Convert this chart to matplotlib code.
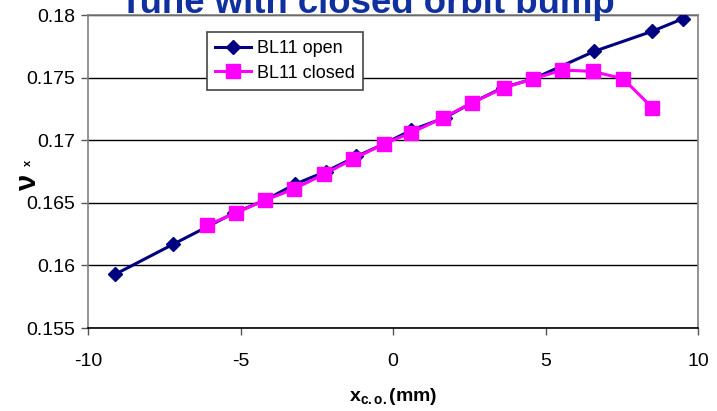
import matplotlib
matplotlib.use("Agg")
import matplotlib.pyplot as plt

plt.rcParams['font.family'] = ['Liberation Sans', 'DejaVu Sans']
plt.rcParams['axes.unicode_minus'] = False
plt.rcParams['mathtext.fontset'] = 'custom'
plt.rcParams['mathtext.rm'] = 'Liberation Sans'
plt.rcParams['mathtext.bf'] = 'Liberation Sans:bold'
plt.rcParams['mathtext.it'] = 'Liberation Sans:italic'

# tune vs closed orbit position
x_open = [-9.1, -7.2, -5.2, -4.2, -3.2, -2.2, -1.2, -0.3, 0.6, 1.7, 2.6, 3.6, 4.6, 6.6, 8.5, 9.5]
nu_open = [0.1593, 0.1617, 0.1642, 0.1652, 0.1665, 0.1675, 0.1687, 0.1697, 0.1708,
           0.1718, 0.1730, 0.1742, 0.1749, 0.1771, 0.1787, 0.1797]
x_closed = [-6.1, -5.15, -4.2, -3.25, -2.25, -1.3, -0.3, 0.6, 1.65, 2.6, 3.65, 4.6,
            5.55, 6.55, 7.55, 8.5]
nu_closed = [0.1632, 0.1642, 0.1652, 0.1661, 0.1673, 0.1685, 0.1697, 0.1706, 0.1718,
             0.1730, 0.1742, 0.1749, 0.1756, 0.1755, 0.1749, 0.1726]
xticks = [-10, -5, 0, 5, 10]
yticks = [0.155, 0.16, 0.165, 0.17, 0.175, 0.18]
ytick_labels = ['0.155', '0.16', '0.165', '0.17', '0.175', '0.18']

fig = plt.figure(figsize=(7.17, 4.11), dpi=100)
ax = fig.add_axes([88 / 717, 1 - 328 / 411, 610 / 717, 313 / 411])

ax.plot(x_open, nu_open, color='#000080', lw=2.2, marker='D', ms=7.5,
        label='BL11 open', zorder=3)
ax.plot(x_closed, nu_closed, color='#ff00ff', lw=2.2, marker='s', ms=10.5,
        label='BL11 closed', zorder=4)

ax.set_xlim(-10, 10)
ax.set_ylim(0.155, 0.18)
ax.set_xticks(xticks)
ax.set_yticks(yticks)
ax.set_yticklabels(ytick_labels)
ax.tick_params(labelsize=14, length=5, width=1, color='#555555', direction='out')
ax.tick_params(axis='x', pad=13)
ax.tick_params(axis='y', pad=4)
ax.grid(axis='y', color='black', lw=1)
ax.set_axisbelow(True)
for s in ['top', 'right', 'left']:
    ax.spines[s].set_color('#808080')
    ax.spines[s].set_linewidth(1.2)
ax.spines['bottom'].set_color('black')
ax.spines['bottom'].set_linewidth(1.2)

leg = ax.legend(loc='upper left', bbox_to_anchor=(0.195, 0.945), fontsize=13,
                frameon=True, fancybox=False, borderpad=0.45, labelspacing=0.4,
                handlelength=2.0, handletextpad=0.3, borderaxespad=0)
leg.get_frame().set_edgecolor('#444444')
leg.get_frame().set_linewidth(1.2)
leg.get_frame().set_alpha(1)

fig.text(367 / 717, 1 - 13 / 411, 'Tune with closed orbit bump', fontsize=26.4,
         fontweight='bold', color='#1030a0', ha='center', va='baseline')
fig.text(28 / 717, 1 - 183 / 411, 'ν', fontsize=21, fontweight='bold',
         rotation=90, ha='center', va='center')
fig.text(28 / 717, 1 - 163 / 411, 'x', fontsize=8, fontweight='bold',
         rotation=90, ha='center', va='center')
fig.text(393 / 717, 1 - 396 / 411, r'$\mathbf{x}_{\mathbf{c.o.}}$' + '(mm)', fontsize=14,
         fontweight='bold', ha='center', va='center')

fig.savefig('out.png', dpi=100)
